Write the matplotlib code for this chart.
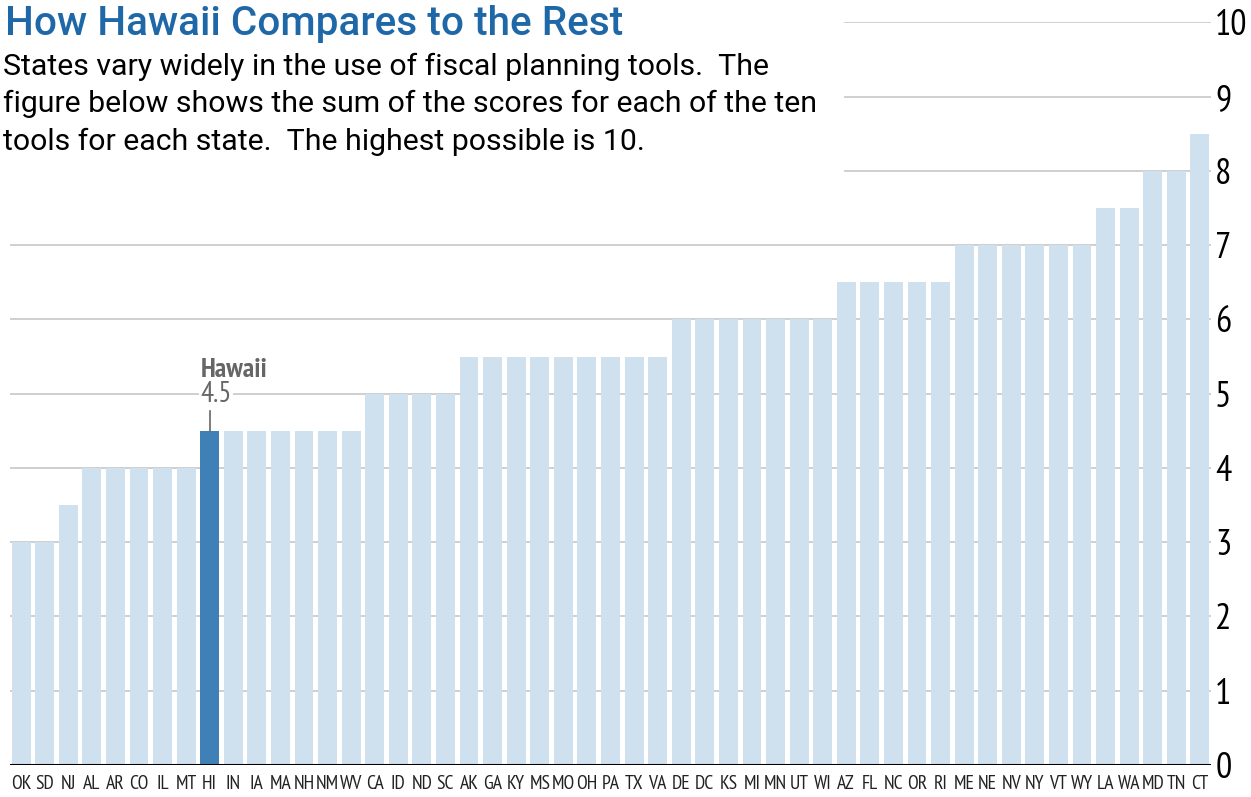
import matplotlib
matplotlib.use("Agg")
import matplotlib.pyplot as plt
from matplotlib import font_manager as fm

states = ["OK","SD","NJ","AL","AR","CO","IL","MT","HI","IN","IA","MA","NH","NM","WV",
          "CA","ID","ND","SC","AK","GA","KY","MS","MO","OH","PA","TX","VA","DE","DC",
          "KS","MI","MN","UT","WI","AZ","FL","NC","OR","RI","ME","NE","NV","NY","VT",
          "WY","LA","WA","MD","TN","CT"]
scores = [3,3,3.5,4,4,4,4,4,4.5,4.5,4.5,4.5,4.5,4.5,4.5,
          5,5,5,5,5.5,5.5,5.5,5.5,5.5,5.5,5.5,5.5,5.5,6,6,
          6,6,6,6,6,6.5,6.5,6.5,6.5,6.5,7,7,7,7,7,
          7,7.5,7.5,8,8,8.5]
yticks = [0,1,2,3,4,5,6,7,8,9,10]
highlight = "HI"
title = "How Hawaii Compares to the Rest"
subtitle = ["States vary widely in the use of fiscal planning tools.  The",
            "figure below shows the sum of the scores for each of the ten",
            "tools for each state.  The highest possible is 10."]

def static_font(cands):
    for fam, wt in cands:
        for f in fm.fontManager.ttflist:
            fn = f.fname.split("/")[-1]
            if (f.name == fam and f.weight == wt and f.style == "normal"
                    and "[" not in fn and fn.lower().endswith((".ttf", ".otf"))):
                return fm.FontProperties(fname=f.fname)
    return fm.FontProperties(family="DejaVu Sans", weight=cands[0][1])

cond = static_font([("PT Sans Narrow", 400), ("Roboto Condensed", 400),
                    ("Fira Sans Condensed", 400), ("IBM Plex Sans Condensed", 400),
                    ("DejaVu Sans", 400)])
cond_b = static_font([("PT Sans Narrow", 700), ("Roboto Condensed", 700),
                      ("Fira Sans Condensed", 700), ("IBM Plex Sans Condensed", 700),
                      ("DejaVu Sans", 700)])
title_fp = static_font([("Libre Franklin", 600), ("Libre Franklin", 500), ("Roboto", 500),
                        ("Roboto", 700), ("Open Sans", 600), ("Liberation Sans", 700)])
sub_fp = static_font([("Libre Franklin", 400), ("Roboto", 400), ("Open Sans", 400),
                      ("Liberation Sans", 400)])

def fp(base, size):
    p = base.copy()
    p.set_size(size)
    return p

W, H = 1251, 797
fig = plt.figure(figsize=(W/100, H/100), dpi=100)
ax = fig.add_axes([10/W, (H-765)/H, (1211-10)/W, (765-22.3)/H])

light = "#cfe0ee"
dark = "#3f80b6"
colors = [dark if s == highlight else light for s in states]
x = list(range(len(states)))
ax.bar(x, scores, width=0.8, color=colors, zorder=2)

ax.set_xlim(-0.47, len(states) - 1 + 0.47)
ax.set_ylim(0, 10)

text_right = (845 - 10) / (1211 - 10)
for t in yticks[1:]:
    xmin = text_right if t >= 8 else 0
    ax.axhline(t, xmin=xmin, xmax=1, color="#cccccc", lw=1.3, zorder=1)
ax.axhline(0, color="black", lw=2.2, zorder=3)

for s in ax.spines.values():
    s.set_visible(False)
ax.yaxis.tick_right()
ax.set_yticks(yticks)
ax.set_yticklabels([str(t) for t in yticks], fontproperties=fp(cond, 26))
ax.tick_params(axis="y", length=0, pad=3)
ax.set_xticks(x)
ax.set_xticklabels(states, fontproperties=fp(cond, 15), color="#222222")
ax.tick_params(axis="x", length=0, pad=7)

# size x labels so the widest one nearly fills a bar slot, as in the reference
fig.canvas.draw()
r = fig.canvas.get_renderer()
maxw = max(lbl.get_window_extent(r).width for lbl in ax.get_xticklabels())
for lbl in ax.get_xticklabels():
    lbl.set_fontsize(15 * 23.3 / maxw)

hi = states.index(highlight)
hv = scores[hi]
ax.plot([hi, hi], [hv, hv + 0.27], color="#666666", lw=1.2, zorder=3)
ax.text(hi - 0.4, hv + 0.31, f"{hv}", ha="left", va="bottom", fontproperties=fp(cond, 21),
        color="#666666", zorder=4,
        bbox=dict(facecolor="white", edgecolor="none", pad=1))
ax.text(hi - 0.4, hv + 0.66, "Hawaii", ha="left", va="bottom", fontproperties=fp(cond_b, 20),
        color="#666666", zorder=4)

t_title = fig.text(5/W, 1 - 35/H, title, ha="left", va="baseline",
                   fontproperties=fp(title_fp, 27), color="#1f68a8")
t_sub = []
for i, line in enumerate(subtitle):
    t_sub.append(fig.text(3/W, 1 - (75 + 37.5*i)/H, line, ha="left", va="baseline",
                          fontproperties=fp(sub_fp, 20), color="black"))

# fit text widths to the reference layout
fig.canvas.draw()
w = t_title.get_window_extent(r).width
t_title.set_fontsize(27 * 618 / w)
w = t_sub[1].get_window_extent(r).width
for t in t_sub:
    t.set_fontsize(20 * 812 / w)

fig.savefig("out.png", dpi=100)
